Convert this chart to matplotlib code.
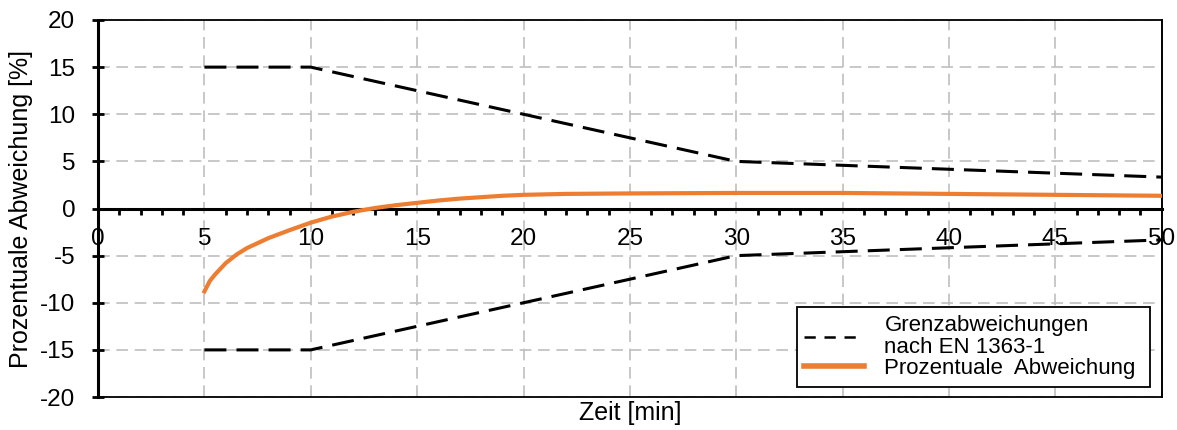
import matplotlib
matplotlib.use("Agg")
import matplotlib.pyplot as plt
from matplotlib.lines import Line2D
from matplotlib.ticker import MultipleLocator

plt.rcParams['font.family'] = ['Liberation Sans', 'DejaVu Sans']
plt.rcParams['axes.unicode_minus'] = False

# Grenzabweichungen nach EN 1363-1
limit_t = [5, 10, 30, 50]
limit_upper = [15, 15, 5, 3.33]
limit_lower = [-15, -15, -5, -3.33]

# gemessene prozentuale Abweichung
dev_t = [5, 5.25, 5.5, 6, 6.5, 7, 8, 9, 10, 11, 12, 13, 14, 15, 16, 17, 18, 19, 20,
         22, 25, 30, 35, 40, 45, 50]
dev_val = [-8.8, -7.7, -7.0, -5.8, -4.9, -4.2, -3.15, -2.3, -1.5, -0.85, -0.35, 0.05, 0.35,
           0.6, 0.85, 1.05, 1.2, 1.35, 1.45, 1.55, 1.6, 1.65, 1.65, 1.55, 1.45, 1.35]

ORANGE = "#ED7D31"
FS_TICK = 17.5
FS_LABEL = 18
FS_LEG = 16

fig = plt.figure(figsize=(11.77, 4.30), dpi=100)
ax = fig.add_axes([0.0833, 0.0767, 0.9037, 0.8768])

ax.plot(limit_t, limit_upper, color="black", lw=2.2, dashes=(7.2, 3.3), zorder=3)
ax.plot(limit_t, limit_lower, color="black", lw=2.2, dashes=(7.2, 3.3), zorder=3)
ax.plot(dev_t, dev_val, color=ORANGE, lw=3.0, zorder=4)

ax.set_xlim(0, 50)
ax.set_ylim(-20, 20)
ax.xaxis.set_major_locator(MultipleLocator(5))
ax.xaxis.set_minor_locator(MultipleLocator(1))
ax.yaxis.set_major_locator(MultipleLocator(5))

ax.grid(True, which="major", color="#bfbfbf", lw=1.2, dashes=(7, 4))
ax.set_axisbelow(True)

# x-Achse bei 0
ax.spines['bottom'].set_position(('data', 0))
ax.spines['bottom'].set_linewidth(2.2)
ax.spines['left'].set_linewidth(2.2)
ax.spines['top'].set_linewidth(1.3)
ax.spines['right'].set_linewidth(1.4)
ax.plot([0, 1], [0, 0], transform=ax.transAxes, color="black", lw=1.3, clip_on=False, zorder=5)

ax.tick_params(axis="x", which="major", length=0, pad=14, labelsize=FS_TICK)
ax.tick_params(axis="x", which="minor", direction="out", length=4, width=2)
ax.tick_params(axis="y", which="major", direction="inout", length=9, width=2, pad=12, labelsize=FS_TICK)

ax.set_ylabel("Prozentuale Abweichung [%]", fontsize=FS_LABEL)
ax.yaxis.set_label_coords(-0.061, 0.5)
ax.set_xlabel("Zeit [min]", fontsize=FS_LABEL)
ax.xaxis.set_label_coords(0.5, -0.01)

handles = [
    Line2D([], [], color="black", lw=1.8, dashes=(4.5, 3.5)),
    Line2D([], [], color=ORANGE, lw=4),
]
leg = ax.legend(handles, ["Grenzabweichungen\nnach EN 1363-1", "Prozentuale  Abweichung "],
                loc="lower right", bbox_to_anchor=(0.9887, 0.027), fontsize=FS_LEG,
                fancybox=False, framealpha=1, edgecolor="black", borderpad=0.35,
                labelspacing=0.0, handlelength=2.7, handletextpad=0.9, borderaxespad=0)
leg.get_frame().set_linewidth(1.3)
for t in leg.get_texts():
    t.set_linespacing(1.05)

fig.savefig("out.png", dpi=100)
